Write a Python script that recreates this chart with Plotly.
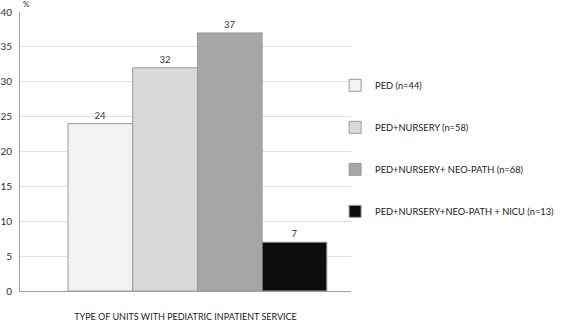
import plotly.graph_objects as go

categories = ["PED (n=44)", "PED+NURSERY (n=58)", "PED+NURSERY+ NEO-PATH (n=68)", "PED+NURSERY+NEO-PATH + NICU (n=13)"]
values = [24, 32, 37, 7]
colors = ["#f2f2f2", "#d9d9d9", "#a6a6a6", "#0d0d0d"]
y_ticks = [0, 5, 10, 15, 20, 25, 30, 35, 40]

FONT = "Lato, Open Sans, sans-serif"

fig = go.Figure()
for i, (name, v, c) in enumerate(zip(categories, values, colors)):
    fig.add_trace(go.Bar(
        x=[""], y=[v], name=name,
        marker=dict(color=c, line=dict(color="#9a9a9a", width=1)),
        text=[str(v)], textposition="outside", cliponaxis=False,
        textfont=dict(size=9.5, color="#333333", family=FONT),
        legendgroup=f"g{i}",
    ))

fig.update_layout(
    width=567, height=322,
    margin=dict(l=20, r=216, t=12, b=31, autoexpand=False),
    barmode="group", bargap=0.218, bargroupgap=0,
    plot_bgcolor="white", paper_bgcolor="white",
    font=dict(family=FONT, color="#333333"),
    showlegend=True,
    legend=dict(
        xref="container", yref="container",
        x=0.591, y=0.780, xanchor="left", yanchor="top",
        font=dict(size=9.3, color="#222222", family=FONT),
        tracegroupgap=23, itemwidth=30,
        bgcolor="rgba(0,0,0,0)",
    ),
    xaxis=dict(
        range=[-0.536, 0.464], showticklabels=False, ticks="",
        showline=True, linecolor="#a0a0a0", linewidth=1,
        title=dict(text="TYPE OF UNITS WITH PEDIATRIC INPATIENT SERVICE",
                   font=dict(size=9, color="#222222", family=FONT), standoff=23),
    ),
    yaxis=dict(
        range=[0, 40], tickvals=y_ticks, ticks="",
        showgrid=True, gridcolor="#e0e0e0", gridwidth=1,
        showline=True, linecolor="#a0a0a0", linewidth=1,
        zeroline=False,
        tickfont=dict(size=10, color="#333333", family=FONT),
        ticklabelstandoff=5,
    ),
    annotations=[dict(text="%", xref="paper", yref="paper", x=0.0, y=1.0,
                      xanchor="left", yanchor="bottom", showarrow=False,
                      xshift=1, yshift=1, font=dict(size=8, color="#333333", family=FONT))],
)

fig.write_html("out.html",
               config={"displayModeBar": False},
               post_script="document.body.style.margin='0';document.body.style.overflow='hidden';")
